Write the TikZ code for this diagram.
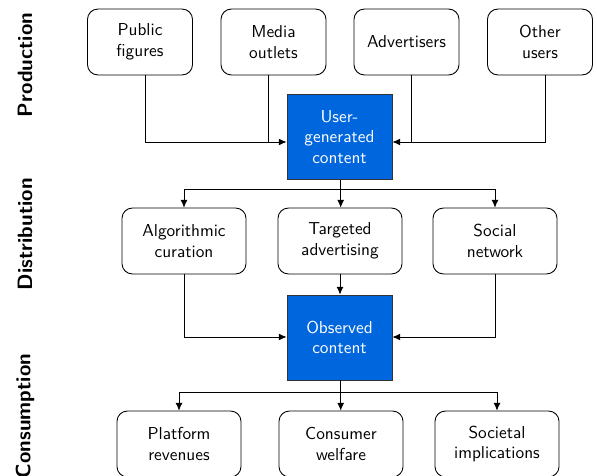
\documentclass[tikz,border=0pt]{standalone}
\usetikzlibrary{arrows.meta}
\definecolor{ugcblue}{RGB}{0,102,221}
\begin{document}
\begin{tikzpicture}[x=0.578pt,y=-0.578pt,font=\sffamily,
  plain/.style={draw,rounded corners=6pt,align=center,inner sep=0pt,line width=0.5pt},
  toprow/.style={plain,minimum width=60.7pt,minimum height=38.1pt},
  midrow/.style={plain,minimum width=71.7pt,minimum height=38.1pt},
  bluebox/.style={draw=black!80,fill=ugcblue,text=white,align=center,inner sep=0pt,minimum width=60.7pt,minimum height=49.1pt,line width=0.5pt},
  arr/.style={-{Latex[length=4.5pt,width=4pt]},line width=0.45pt},
  ln/.style={line width=0.45pt},
  stage/.style={rotate=90,font=\sffamily\bfseries\large}]
\useasboundingbox (0,0) rectangle (597,476);
% stage labels
\node[stage] (lp) at (25,65) {Production};
\node[stage] (ld) at (25,234) {Distribution};
\node[stage] (lc) at (25,416) {Consumption};
% production
\node[toprow] (pf) at (140,42) {Public\\figures};
\node[toprow] (mo) at (273.5,42) {Media\\outlets};
\node[toprow] (ad) at (406.5,42) {Advertisers};
\node[toprow] (ou) at (540,42) {Other\\users};
\node[bluebox] (ugc) at (339.5,137) {User-\\generated\\content};
% distribution
\node[midrow] (ac) at (184,241) {Algorithmic\\curation};
\node[midrow] (ta) at (340,241) {Targeted\\advertising};
\node[midrow] (sn) at (495,241) {Social\\network};
\node[bluebox] (obs) at (339.5,337.5) {Observed\\content};
% consumption
\node[midrow] (pr) at (179,444) {Platform\\revenues};
\node[midrow] (cw) at (341,444) {Consumer\\welfare};
\node[midrow] (si) at (497,444) {Societal\\implications};
% production connectors
\coordinate (inL) at (287.3,142);
\coordinate (inR) at (392.7,142);
\coordinate (pfs) at (145,75);
\coordinate (mos) at (268,75);
\coordinate (ads) at (411.7,75);
\coordinate (ous) at (545,75);
\draw[arr] (pfs) |- (ugc.west |- inL);
\draw[ln] (mos) -- (mos |- inL);
\draw[arr] (ous) |- (ugc.east |- inR);
\draw[ln] (ads) -- (ads |- inR);
% distribution connectors
\coordinate (dsplit) at (340.7,189);
\draw[ln] (ugc.south -| dsplit) -- (dsplit);
\draw[arr] (dsplit) -| (ac.north);
\draw[arr] (dsplit) -| (sn.north);
\draw[arr] (dsplit) -- (ta.north -| dsplit);
% observed
\coordinate (oL) at (287.3,337);
\coordinate (oR) at (392.7,337);
\draw[arr] (ac.south) |- (obs.west |- oL);
\draw[arr] (sn.south) |- (obs.east |- oR);
\draw[arr] (ta.south) -- (obs.north -| ta.south);
% consumption connectors
\coordinate (csplit) at (340.7,392);
\draw[ln] (obs.south -| csplit) -- (csplit);
\draw[arr] (csplit) -| (pr.north);
\draw[arr] (csplit) -| (si.north);
\draw[arr] (csplit) -- (cw.north -| csplit);
\end{tikzpicture}
\end{document}
